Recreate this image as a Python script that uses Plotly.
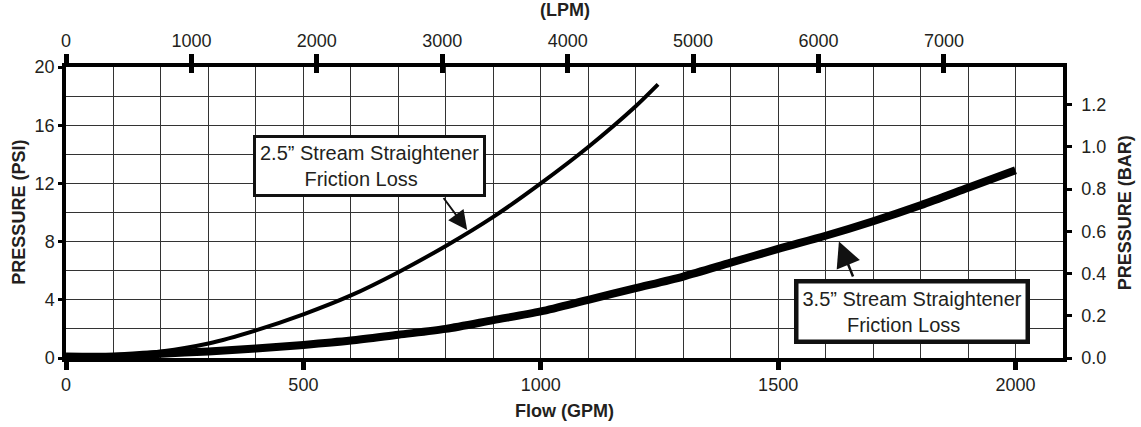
import plotly.graph_objects as go

# Flow in GPM and friction loss in PSI
flow_25 = [0, 100, 200, 300, 400, 500, 600, 700, 800, 900, 1000, 1100, 1200, 1247]
psi_25 = [0.1, 0.15, 0.45, 1.0, 1.9, 3.0, 4.3, 5.9, 7.7, 9.7, 12.0, 14.5, 17.3, 18.8]

flow_35 = [0, 100, 200, 300, 400, 500, 600, 700, 800, 900, 1000,
           1100, 1200, 1300, 1400, 1500, 1600, 1700, 1800, 1900, 2000]
psi_35 = [0.1, 0.1, 0.3, 0.45, 0.65, 0.9, 1.2, 1.6, 2.0, 2.6, 3.2,
          4.0, 4.8, 5.6, 6.55, 7.5, 8.4, 9.4, 10.5, 11.7, 12.9]

gpm_ticks = [0, 500, 1000, 1500, 2000]
lpm_ticks = [0, 1000, 2000, 3000, 4000, 5000, 6000, 7000]
psi_ticks = [0, 4, 8, 12, 16, 20]
bar_ticks = [0.0, 0.2, 0.4, 0.6, 0.8, 1.0, 1.2]
bar_labels = ["0.0", "0.2", "0.4", "0.6", "0.8", "1.0", "1.2"]

GPM_MAX = 2100
PSI_MAX = 20
LPM_PER_GPM = 3.78541
BAR_PER_PSI = 0.0689476

FONT = "Liberation Sans, Arial, sans-serif"
INK = "#231f20"
GRID = "#333333"

fig = go.Figure()

fig.add_trace(go.Scatter(
    x=flow_25, y=psi_25, mode="lines",
    line=dict(color="black", width=4, shape="spline", smoothing=0.8),
    hoverinfo="skip", showlegend=False,
))
fig.add_trace(go.Scatter(
    x=flow_35, y=psi_35, mode="lines",
    line=dict(color="black", width=8, shape="spline", smoothing=0.8),
    hoverinfo="skip", showlegend=False,
))

# invisible copies so the LPM / BAR axes are drawn
fig.add_trace(go.Scatter(
    x=[f * LPM_PER_GPM for f in flow_35], y=[p * BAR_PER_PSI for p in psi_35],
    xaxis="x2", yaxis="y2", mode="lines",
    line=dict(color="rgba(0,0,0,0)", width=0),
    hoverinfo="skip", showlegend=False,
))
fig.add_trace(go.Scatter(
    x=[f * LPM_PER_GPM for f in flow_35], y=psi_35,
    xaxis="x3", yaxis="y", mode="lines",
    line=dict(color="rgba(0,0,0,0)", width=0),
    hoverinfo="skip", showlegend=False,
))

tick_font = dict(family=FONT, size=18, color=INK)

fig.update_layout(
    width=1141, height=427,
    margin=dict(l=66, r=78, t=67, b=69, autoexpand=False),
    paper_bgcolor="white", plot_bgcolor="white",
    showlegend=False,
    font=dict(family=FONT, color=INK),
    xaxis=dict(
        range=[0, GPM_MAX], tickvals=gpm_ticks,
        ticks="outside", ticklen=8, tickwidth=5, tickcolor="black",
        tickfont=tick_font,
        showline=True, linewidth=3.5, linecolor="black",
        showgrid=True, gridcolor=GRID, gridwidth=1,
        minor=dict(dtick=100, showgrid=True, gridcolor=GRID, gridwidth=1, ticks=""),
        zeroline=False,
    ),
    xaxis2=dict(
        overlaying="x", side="top", anchor="y",
        range=[0, GPM_MAX * LPM_PER_GPM], tickvals=lpm_ticks,
        ticks="outside", ticklen=9, tickwidth=5, tickcolor="black",
        tickfont=tick_font,
        showline=True, linewidth=3.5, linecolor="black",
        showgrid=False, zeroline=False,
    ),
    # second top axis only to make the LPM ticks cross the frame
    xaxis3=dict(
        overlaying="x", side="top", anchor="y",
        range=[0, GPM_MAX * LPM_PER_GPM], tickvals=lpm_ticks,
        ticks="inside", ticklen=6, tickwidth=5, tickcolor="black",
        showticklabels=False, showline=False, showgrid=False, zeroline=False,
    ),
    yaxis=dict(
        range=[0, PSI_MAX], tickvals=psi_ticks,
        ticks="outside", ticklen=4, tickwidth=3, tickcolor="black",
        tickfont=tick_font,
        showline=True, linewidth=3.5, linecolor="black",
        showgrid=True, gridcolor=GRID, gridwidth=1,
        minor=dict(dtick=2, showgrid=True, gridcolor=GRID, gridwidth=1, ticks=""),
        zeroline=False,
    ),
    yaxis2=dict(
        overlaying="y", side="right", anchor="x",
        range=[0, PSI_MAX * BAR_PER_PSI], tickvals=bar_ticks, ticktext=bar_labels,
        ticks="outside", ticklen=5, tickwidth=3, tickcolor="black",
        ticklabelstandoff=6,
        tickfont=tick_font,
        showline=True, linewidth=3.5, linecolor="black",
        showgrid=False, zeroline=False,
    ),
)

title_font = dict(family=FONT, size=18, color=INK)
box_font = dict(family=FONT, size=20, color=INK)
annotations = [
    dict(text="<b>Flow (GPM)</b>", xref="paper", yref="paper", x=0.5, y=-0.182,
         xanchor="center", yanchor="middle", showarrow=False, font=title_font),
    dict(text="<b>(LPM)</b>", xref="paper", yref="paper", x=0.5, y=1.196,
         xanchor="center", yanchor="middle", showarrow=False, font=title_font),
    dict(text="<b>PRESSURE (PSI)</b>", xref="paper", yref="paper", x=-0.048, y=0.5,
         xanchor="center", yanchor="middle", textangle=-90, showarrow=False,
         font=title_font),
    dict(text="<b>PRESSURE (BAR)</b>", xref="paper", yref="paper", x=1.062, y=0.5,
         xanchor="center", yanchor="middle", textangle=-90, showarrow=False,
         font=title_font),
    # callout boxes
    dict(text="2.5” Stream Straightener<br>Friction Loss&nbsp;&nbsp;&nbsp;",
         x=639, y=13.2, xref="x", yref="y", xanchor="center", yanchor="middle",
         showarrow=False, align="center", font=box_font,
         bgcolor="white", bordercolor="#111", borderwidth=3, borderpad=4),
    dict(text="3.5” Stream Straightener<br>Friction Loss&nbsp;&nbsp;&nbsp;",
         x=1781, y=3.23, xref="x", yref="y", xanchor="center", yanchor="middle",
         showarrow=False, align="center", font=box_font,
         bgcolor="white", bordercolor="#111", borderwidth=4.5, borderpad=4),
    # arrows
    dict(text="", x=845, y=8.8, ax=793, ay=11.1, xref="x", yref="y",
         axref="x", ayref="y", showarrow=True, arrowhead=2, arrowsize=1.9,
         arrowwidth=2, arrowcolor="#111"),
    dict(text="", x=1628, y=8.0, ax=1659, ay=5.5, xref="x", yref="y",
         axref="x", ayref="y", showarrow=True, arrowhead=2, arrowsize=2.0,
         arrowwidth=2.5, arrowcolor="#111"),
]
fig.update_layout(annotations=annotations)

# drop the default 8px page margin so the figure fills the window
fig.write_html(
    "out.html",
    config={"displayModeBar": False},
    post_script="document.body.style.margin = '0';",
)
